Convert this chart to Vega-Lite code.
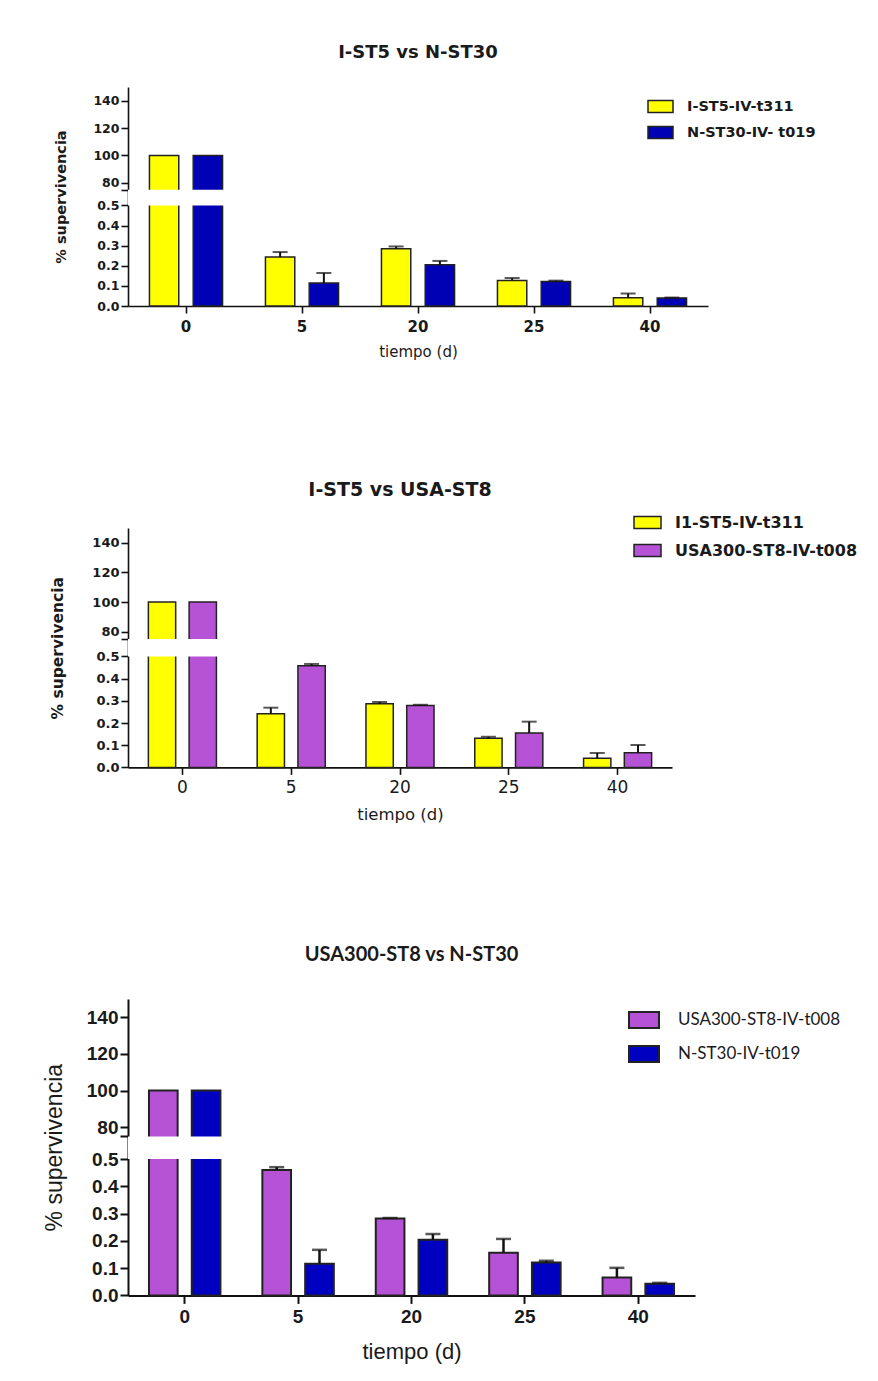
{
  "$schema": "https://vega.github.io/schema/vega-lite/v6.json",
  "background": "white",
  "padding": {"left": 43, "top": 44, "right": 10, "bottom": 10},
  "spacing": 122,
  "config": {
    "view": {"stroke": null},
    "axis": {"domainColor": "#111", "tickColor": "#111", "labelColor": "#1a1a1a", "titleColor": "#1a1a1a", "grid": false, "domainWidth": 1.6, "tickWidth": 1.6, "labelOverlap": false}
  },
  "resolve": {"scale": {"x": "independent", "y": "independent", "xOffset": "independent", "fill": "independent"}, "legend": {"fill": "independent"}},
  "vconcat": [
    {
      "width": 580,
      "height": 219,
      "title": {"text": "I-ST5 vs N-ST30", "font": "DejaVu Sans", "fontSize": 18, "fontWeight": "bold", "color": "#1a1a1a", "anchor": "middle", "offset": 25},
      "data": {"values": [
        {"dia": "0", "cepa": "I-ST5-IV-t311", "valor": 100, "sup": null},
        {"dia": "0", "cepa": "N-ST30-IV- t019", "valor": 100, "sup": null},
        {"dia": "5", "cepa": "I-ST5-IV-t311", "valor": 0.243, "sup": 0.268},
        {"dia": "5", "cepa": "N-ST30-IV- t019", "valor": 0.114, "sup": 0.164},
        {"dia": "20", "cepa": "I-ST5-IV-t311", "valor": 0.285, "sup": 0.296},
        {"dia": "20", "cepa": "N-ST30-IV- t019", "valor": 0.205, "sup": 0.224},
        {"dia": "25", "cepa": "I-ST5-IV-t311", "valor": 0.127, "sup": 0.139},
        {"dia": "25", "cepa": "N-ST30-IV- t019", "valor": 0.122, "sup": 0.126},
        {"dia": "40", "cepa": "I-ST5-IV-t311", "valor": 0.041, "sup": 0.062},
        {"dia": "40", "cepa": "N-ST30-IV- t019", "valor": 0.040, "sup": 0.042}
      ]},
      "layer": [
        {
          "mark": {"type": "bar", "stroke": "#222", "strokeWidth": 1.5},
          "encoding": {
            "x": {"field": "dia", "type": "ordinal", "sort": ["0", "5", "20", "25", "40"], "scale": {"paddingInner": 0, "paddingOuter": 0},
              "axis": {"title": "tiempo (d)", "labelAngle": 0, "labelFont": "DejaVu Sans", "labelFontSize": 15, "labelFontWeight": "bold", "tickSize": 7, "labelPadding": 6, "titleFont": "DejaVu Sans", "titleFontSize": 15, "titleFontWeight": "normal", "titlePadding": 10}},
            "xOffset": {"field": "cepa", "scale": {"domain": ["I-ST5-IV-t311", "N-ST30-IV- t019"], "paddingInner": 0.33, "paddingOuter": 0.49}},
            "y": {"field": "valor", "type": "quantitative",
              "scale": {"domain": [0, 0.5, 75, 150], "range": [219, 118.4, 102.7, 0], "nice": false, "zero": false},
              "axis": {"title": "% supervivencia", "values": [0, 0.1, 0.2, 0.3, 0.4, 0.5, 75, 80, 100, 120, 140], "tickCount": 30, "labelOverlap": false,
                "labelExpr": "datum.value == 75 ? '' : datum.value < 1 ? format(datum.value, '.1f') : format(datum.value, 'd')",
                "labelFont": "DejaVu Sans", "labelFontSize": 12.5, "labelFontWeight": "bold", "tickSize": 7, "labelPadding": 2,
                "titleFont": "DejaVu Sans", "titleFontSize": 14.5, "titleFontWeight": "bold", "titlePadding": 24}},
            "fill": {"field": "cepa", "type": "nominal",
              "scale": {"domain": ["I-ST5-IV-t311", "N-ST30-IV- t019"], "range": ["#FFFF00", "#0000B4"]},
              "legend": {"orient": "none", "legendX": 519, "legendY": 6, "title": null, "symbolType": "M-1,-0.48H1V0.48H-1Z", "symbolSize": 625, "symbolStrokeColor": "#222", "symbolStrokeWidth": 1.5, "symbolOpacity": 1, "labelFont": "DejaVu Sans", "labelFontSize": 14.5, "labelFontWeight": "bold", "labelColor": "#1a1a1a", "labelOffset": 13, "labelLimit": 0, "rowPadding": 3}}
          }
        },
        {
          "transform": [{"filter": "datum.sup != null"}],
          "mark": {"type": "rule", "color": "#111", "strokeWidth": 2},
          "encoding": {
            "x": {"field": "dia", "type": "ordinal", "sort": ["0", "5", "20", "25", "40"]},
            "xOffset": {"field": "cepa"},
            "y": {"field": "valor", "type": "quantitative"},
            "y2": {"field": "sup"}
          }
        },
        {
          "transform": [{"filter": "datum.sup != null"}],
          "mark": {"type": "tick", "orient": "horizontal", "color": "#111", "size": 15, "thickness": 2},
          "encoding": {
            "x": {"field": "dia", "type": "ordinal", "sort": ["0", "5", "20", "25", "40"]},
            "xOffset": {"field": "cepa"},
            "y": {"field": "sup", "type": "quantitative"}
          }
        },
        {
          "data": {"values": [{}]},
          "mark": {"type": "rect", "fill": "white"},
          "encoding": {"y": {"datum": 0.5}, "y2": {"datum": 75}}
        }
      ]
    },
    {
      "width": 544,
      "height": 239.4,
      "title": {"text": "I-ST5  vs  USA-ST8", "font": "DejaVu Sans", "fontSize": 19, "fontWeight": "bold", "color": "#1a1a1a", "anchor": "middle", "offset": 8},
      "data": {"values": [
        {"dia": "0", "cepa": "I1-ST5-IV-t311", "valor": 100, "sup": null},
        {"dia": "0", "cepa": "USA300-ST8-IV-t008", "valor": 100, "sup": null},
        {"dia": "5", "cepa": "I1-ST5-IV-t311", "valor": 0.242, "sup": 0.269},
        {"dia": "5", "cepa": "USA300-ST8-IV-t008", "valor": 0.458, "sup": 0.466},
        {"dia": "20", "cepa": "I1-ST5-IV-t311", "valor": 0.287, "sup": 0.295},
        {"dia": "20", "cepa": "USA300-ST8-IV-t008", "valor": 0.279, "sup": 0.282},
        {"dia": "25", "cepa": "I1-ST5-IV-t311", "valor": 0.131, "sup": 0.138},
        {"dia": "25", "cepa": "USA300-ST8-IV-t008", "valor": 0.155, "sup": 0.206},
        {"dia": "40", "cepa": "I1-ST5-IV-t311", "valor": 0.041, "sup": 0.065},
        {"dia": "40", "cepa": "USA300-ST8-IV-t008", "valor": 0.066, "sup": 0.101}
      ]},
      "layer": [
        {
          "mark": {"type": "bar", "stroke": "#222", "strokeWidth": 1.5},
          "encoding": {
            "x": {"field": "dia", "type": "ordinal", "sort": ["0", "5", "20", "25", "40"], "scale": {"paddingInner": 0, "paddingOuter": 0},
              "axis": {"title": "tiempo (d)", "labelAngle": 0, "labelFont": "DejaVu Sans", "labelFontSize": 17, "labelFontWeight": "normal", "tickSize": 7, "labelPadding": 5, "titleFont": "DejaVu Sans", "titleFontSize": 16.5, "titleFontWeight": "normal", "titlePadding": 11}},
            "xOffset": {"field": "cepa", "scale": {"domain": ["I1-ST5-IV-t311", "USA300-ST8-IV-t008"], "paddingInner": 0.33, "paddingOuter": 0.5}},
            "y": {"field": "valor", "type": "quantitative",
              "scale": {"domain": [0, 0.5, 75, 150], "range": [239.4, 128.4, 111, 0], "nice": false, "zero": false},
              "axis": {"title": "% supervivencia", "values": [0, 0.1, 0.2, 0.3, 0.4, 0.5, 75, 80, 100, 120, 140], "tickCount": 30, "labelOverlap": false,
                "labelExpr": "datum.value == 75 ? '' : datum.value < 1 ? format(datum.value, '.1f') : format(datum.value, 'd')",
                "labelFont": "DejaVu Sans", "labelFontSize": 13, "labelFontWeight": "bold", "tickSize": 7, "labelPadding": 2,
                "titleFont": "DejaVu Sans", "titleFontSize": 15.5, "titleFontWeight": "bold", "titlePadding": 26}},
            "fill": {"field": "cepa", "type": "nominal",
              "scale": {"domain": ["I1-ST5-IV-t311", "USA300-ST8-IV-t008"], "range": ["#FFFF00", "#B652D6"]},
              "legend": {"orient": "none", "legendX": 505, "legendY": -20, "title": null, "symbolType": "M-1,-0.44H1V0.44H-1Z", "symbolSize": 729, "symbolStrokeColor": "#222", "symbolStrokeWidth": 1.5, "symbolOpacity": 1, "labelFont": "DejaVu Sans", "labelFontSize": 16, "labelFontWeight": "bold", "labelColor": "#1a1a1a", "labelOffset": 13, "labelLimit": 0, "rowPadding": 4}}
          }
        },
        {
          "transform": [{"filter": "datum.sup != null"}],
          "mark": {"type": "rule", "color": "#111", "strokeWidth": 2},
          "encoding": {
            "x": {"field": "dia", "type": "ordinal", "sort": ["0", "5", "20", "25", "40"]},
            "xOffset": {"field": "cepa"},
            "y": {"field": "valor", "type": "quantitative"},
            "y2": {"field": "sup"}
          }
        },
        {
          "transform": [{"filter": "datum.sup != null"}],
          "mark": {"type": "tick", "orient": "horizontal", "color": "#111", "size": 15, "thickness": 2},
          "encoding": {
            "x": {"field": "dia", "type": "ordinal", "sort": ["0", "5", "20", "25", "40"]},
            "xOffset": {"field": "cepa"},
            "y": {"field": "sup", "type": "quantitative"}
          }
        },
        {
          "data": {"values": [{}]},
          "mark": {"type": "rect", "fill": "white"},
          "encoding": {"y": {"datum": 0.5}, "y2": {"datum": 75}}
        }
      ]
    },
    {
      "width": 567,
      "height": 296.4,
      "title": {"text": "USA300-ST8 vs N-ST30", "font": "Lato", "fontSize": 20, "fontWeight": "bold", "color": "#1a1a1a", "anchor": "middle", "offset": 34},
      "data": {"values": [
        {"dia": "0", "cepa": "USA300-ST8-IV-t008", "valor": 100, "sup": null},
        {"dia": "0", "cepa": "N-ST30-IV-t019", "valor": 100, "sup": null},
        {"dia": "5", "cepa": "USA300-ST8-IV-t008", "valor": 0.460, "sup": 0.470},
        {"dia": "5", "cepa": "N-ST30-IV-t019", "valor": 0.116, "sup": 0.167},
        {"dia": "20", "cepa": "USA300-ST8-IV-t008", "valor": 0.282, "sup": 0.284},
        {"dia": "20", "cepa": "N-ST30-IV-t019", "valor": 0.204, "sup": 0.225},
        {"dia": "25", "cepa": "USA300-ST8-IV-t008", "valor": 0.156, "sup": 0.207},
        {"dia": "25", "cepa": "N-ST30-IV-t019", "valor": 0.121, "sup": 0.127},
        {"dia": "40", "cepa": "USA300-ST8-IV-t008", "valor": 0.066, "sup": 0.101},
        {"dia": "40", "cepa": "N-ST30-IV-t019", "valor": 0.043, "sup": 0.046}
      ]},
      "layer": [
        {
          "mark": {"type": "bar", "stroke": "#222", "strokeWidth": 2},
          "encoding": {
            "x": {"field": "dia", "type": "ordinal", "sort": ["0", "5", "20", "25", "40"], "scale": {"paddingInner": 0, "paddingOuter": 0},
              "axis": {"title": "tiempo (d)", "labelAngle": 0, "labelFont": "Liberation Sans", "labelFontSize": 19, "labelFontWeight": "bold", "tickSize": 8, "labelPadding": 4, "titleFont": "Liberation Sans", "titleFontSize": 22, "titleFontWeight": "normal", "titlePadding": 15, "domainWidth": 2, "tickWidth": 2}},
            "xOffset": {"field": "cepa", "scale": {"domain": ["USA300-ST8-IV-t008", "N-ST30-IV-t019"], "paddingInner": 0.33, "paddingOuter": 0.49}},
            "y": {"field": "valor", "type": "quantitative",
              "scale": {"domain": [0, 0.5, 75, 150], "range": [296.4, 160, 137.4, 0], "nice": false, "zero": false},
              "axis": {"title": "% supervivencia", "values": [0, 0.1, 0.2, 0.3, 0.4, 0.5, 75, 80, 100, 120, 140], "tickCount": 30, "labelOverlap": false,
                "labelExpr": "datum.value == 75 ? '' : datum.value < 1 ? format(datum.value, '.1f') : format(datum.value, 'd')",
                "labelFont": "Liberation Sans", "labelFontSize": 19, "labelFontWeight": "bold", "tickSize": 8, "labelPadding": 2, "domainWidth": 2, "tickWidth": 2,
                "titleFont": "Liberation Sans", "titleFontSize": 23, "titleFontWeight": "normal", "titlePadding": 20}},
            "fill": {"field": "cepa", "type": "nominal",
              "scale": {"domain": ["USA300-ST8-IV-t008", "N-ST30-IV-t019"], "range": ["#B652D6", "#0000C0"]},
              "legend": {"orient": "none", "legendX": 500, "legendY": 5, "title": null, "symbolType": "M-1,-0.53H1V0.53H-1Z", "symbolSize": 900, "symbolStrokeColor": "#222", "symbolStrokeWidth": 2, "symbolOpacity": 1, "labelFont": "Lato", "labelFontSize": 17, "labelFontWeight": "normal", "labelColor": "#1a1a1a", "labelOffset": 18, "labelLimit": 0, "rowPadding": 6}}
          }
        },
        {
          "transform": [{"filter": "datum.sup != null"}],
          "mark": {"type": "rule", "color": "#111", "strokeWidth": 2.5},
          "encoding": {
            "x": {"field": "dia", "type": "ordinal", "sort": ["0", "5", "20", "25", "40"]},
            "xOffset": {"field": "cepa"},
            "y": {"field": "valor", "type": "quantitative"},
            "y2": {"field": "sup"}
          }
        },
        {
          "transform": [{"filter": "datum.sup != null"}],
          "mark": {"type": "tick", "orient": "horizontal", "color": "#111", "size": 15, "thickness": 2.5},
          "encoding": {
            "x": {"field": "dia", "type": "ordinal", "sort": ["0", "5", "20", "25", "40"]},
            "xOffset": {"field": "cepa"},
            "y": {"field": "sup", "type": "quantitative"}
          }
        },
        {
          "data": {"values": [{}]},
          "mark": {"type": "rect", "fill": "white"},
          "encoding": {"y": {"datum": 0.5}, "y2": {"datum": 75}}
        }
      ]
    }
  ]
}
